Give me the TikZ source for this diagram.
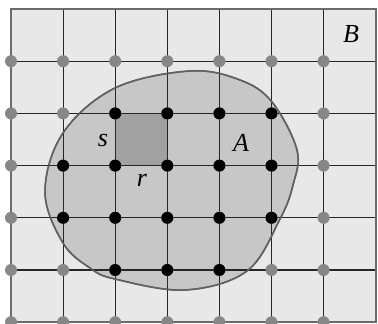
\documentclass[tikz,border=0pt]{standalone}
\usepackage{fontspec}
\setmainfont{Liberation Serif}
\begin{document}
\begin{tikzpicture}[x=0.5pt,y=-0.5pt,
  gridline/.style={line width=0.6pt,draw=black!85},
  framebox/.style={line width=1.2pt,draw=black!58},
  blob/.style={fill=black!22,draw=black!62,line width=0.75pt},
  cellfill/.style={fill=black!37},
  bdot/.style={circle,fill=black,inner sep=0pt,minimum size=6pt},
  gdot/.style={circle,fill=black!47,inner sep=0pt,minimum size=6pt},
  lbl/.style={font=\fontsize{13}{13}\selectfont\itshape,inner sep=0pt}]
\useasboundingbox (0,0) rectangle (378,324);
\clip (0,0) rectangle (378,324);
\def\gx#1{11+52.1*#1}
\def\gy#1{9+52.2*#1}
% background of region B
\fill[black!9] (11,9) rectangle (375.7,322.2);
% region A
\path[blob] plot[smooth cycle,tension=0.6] coordinates {
  (45,192) (63,133) (115,88) (190,71) (240,80) (272,102) (297,150)
  (293,185) (280,219) (247,271) (185,290) (115,279) (90,268) (63,243)};
% shaded cell
\fill[cellfill] ({\gx{2}},{\gy{2}}) rectangle ({\gx{3}},{\gy{3}});
% grid lines
\foreach \k in {1,...,6} \draw[gridline] ({\gx{\k}},9) -- ({\gx{\k}},322.2);
\foreach \m in {1,...,5} \draw[gridline] (11,{\gy{\m}}) -- (375.7,{\gy{\m}});
% region A outline again on top of grid
\draw[draw=black!62,line width=0.75pt] plot[smooth cycle,tension=0.6] coordinates {
  (45,192) (63,133) (115,88) (190,71) (240,80) (272,102) (297,150)
  (293,185) (280,219) (247,271) (185,290) (115,279) (90,268) (63,243)};
% frame
\draw[framebox] (11,9) rectangle (375.7,322.2);
% dots
\foreach \k in {0,...,6} \foreach \m in {1,...,6}
  \node[gdot] (g-\k-\m) at ({\gx{\k}},{\gy{\m}}) {};
\foreach \k/\m in {2/2,3/2,4/2,5/2,1/3,2/3,3/3,4/3,5/3,1/4,2/4,3/4,4/4,5/4,2/5,3/5,4/5}
  \node[bdot] (b-\k-\m) at ({\gx{\k}},{\gy{\m}}) {};
% labels
\node[lbl] (s) at (103,141) {s};
\node[lbl] (r) at (142,180) {r};
\node[lbl] (A) at (241,143) {A};
\node[lbl] (B) at (351,34) {B};
\end{tikzpicture}
\end{document}
